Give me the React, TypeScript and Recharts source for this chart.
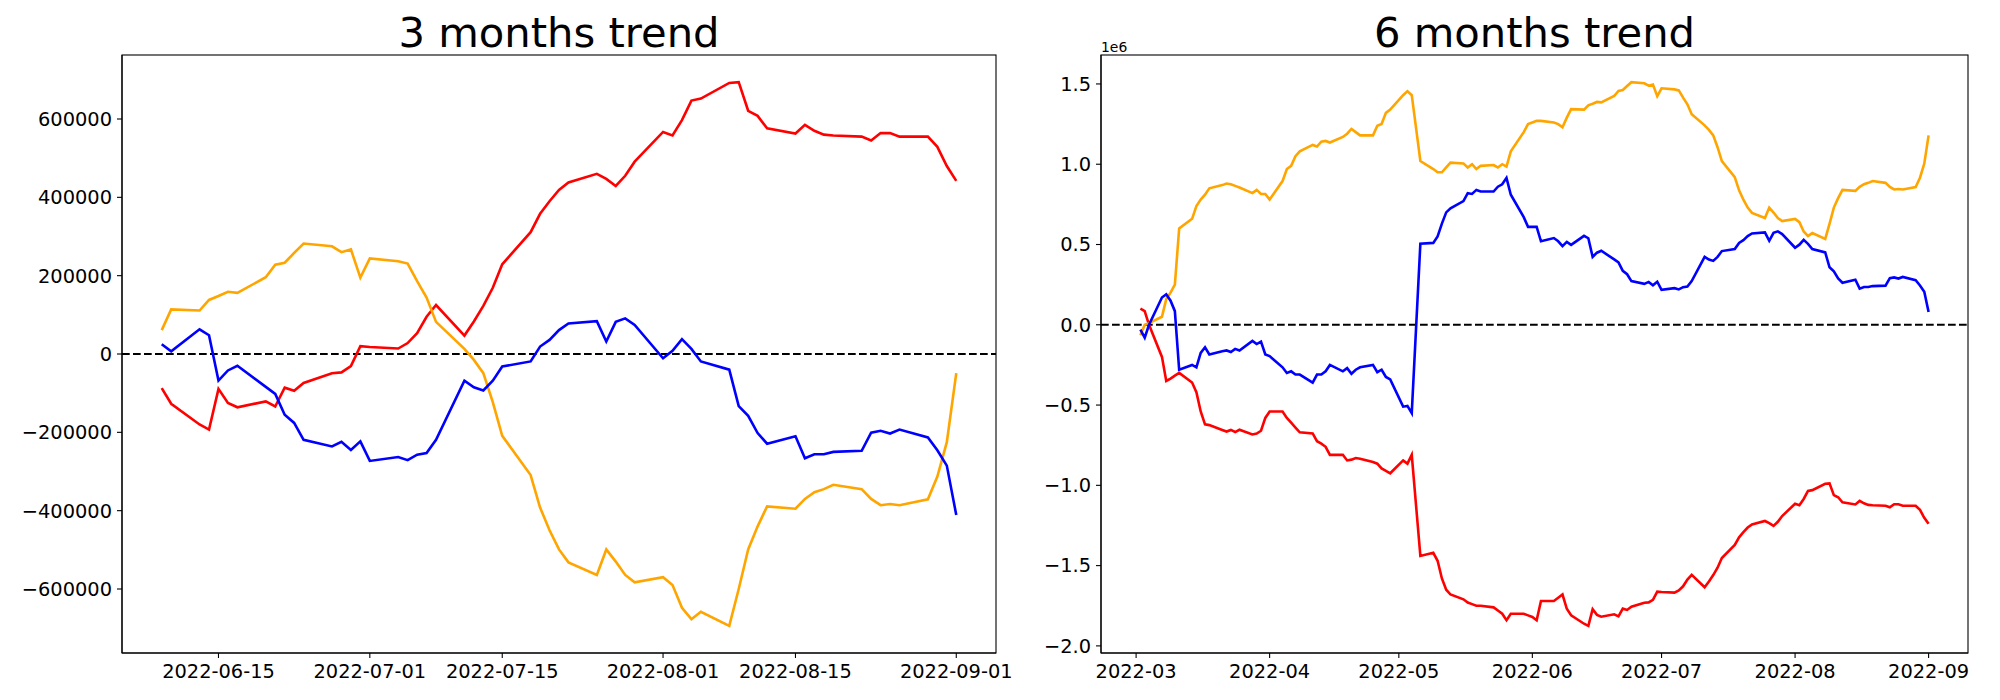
import React from "react";
import { LineChart, Line, XAxis, YAxis, ReferenceLine } from "recharts";

const FONT = "DejaVu Sans";

// 3 months window, weekdays
const SHORT_DATES = [
  "2022-06-09", "2022-06-10", "2022-06-13", "2022-06-14", "2022-06-15", "2022-06-16", "2022-06-17",
  "2022-06-20", "2022-06-21", "2022-06-22", "2022-06-23", "2022-06-24", "2022-06-27", "2022-06-28",
  "2022-06-29", "2022-06-30", "2022-07-01", "2022-07-04", "2022-07-05", "2022-07-06", "2022-07-07",
  "2022-07-08", "2022-07-11", "2022-07-12", "2022-07-13", "2022-07-14", "2022-07-15", "2022-07-18",
  "2022-07-19", "2022-07-20", "2022-07-21", "2022-07-22", "2022-07-25", "2022-07-26", "2022-07-27",
  "2022-07-28", "2022-07-29", "2022-08-01", "2022-08-02", "2022-08-03", "2022-08-04", "2022-08-05",
  "2022-08-08", "2022-08-09", "2022-08-10", "2022-08-11", "2022-08-12", "2022-08-15", "2022-08-16",
  "2022-08-17", "2022-08-18", "2022-08-19", "2022-08-22", "2022-08-23", "2022-08-24", "2022-08-25",
  "2022-08-26", "2022-08-29", "2022-08-30", "2022-08-31", "2022-09-01",
];
const SHORT_RED = [
  -87000, -127000, -180000, -193000, -89000, -125000, -136000, -121000, -134000, -86000, -94000,
  -74000, -49000, -47000, -31000, 20000, 18000, 14000, 28000, 53000, 95000, 125000, 47000, 83000,
  123000, 169000, 229000, 311000, 358000, 390000, 419000, 438000, 460000, 447000, 429000, 455000,
  491000, 567000, 558000, 597000, 647000, 652000, 692000, 694000, 621000, 608000, 576000, 563000,
  585000, 570000, 560000, 558000, 555000, 545000, 564000, 564000, 555000, 555000, 529000, 480000,
  442000,
];
const SHORT_ORANGE = [
  61000, 114000, 111000, 138000, 148000, 159000, 156000, 196000, 228000, 233000, 258000, 282000,
  275000, 260000, 267000, 195000, 244000, 237000, 231000, 186000, 144000, 82000, 13000, -15000,
  -49000, -123000, -209000, -309000, -392000, -450000, -499000, -532000, -564000, -499000, -530000,
  -564000, -583000, -570000, -590000, -648000, -677000, -658000, -694000, -600000, -499000, -440000,
  -389000, -395000, -370000, -353000, -345000, -334000, -345000, -370000, -386000, -383000, -386000,
  -371000, -313000, -225000, -49000,
];
const SHORT_BLUE = [
  25000, 7000, 63000, 48000, -68000, -42000, -30000, -84000, -102000, -155000, -176000, -219000,
  -236000, -224000, -245000, -223000, -273000, -263000, -271000, -257000, -253000, -219000, -68000,
  -85000, -93000, -68000, -32000, -19000, 19000, 36000, 61000, 78000, 84000, 32000, 82000, 91000,
  74000, -11000, 8000, 38000, 13000, -19000, -40000, -133000, -158000, -202000, -229000, -210000,
  -266000, -256000, -256000, -250000, -247000, -201000, -196000, -203000, -193000, -213000, -246000,
  -285000, -411000,
];
const SHORT_X_TICKS = ["2022-06-15", "2022-07-01", "2022-07-15", "2022-08-01", "2022-08-15", "2022-09-01"];
const SHORT_Y_TICKS = [-600000, -400000, -200000, 0, 200000, 400000, 600000];

// 6 months window, values in units of 1e6
const LONG_DATES = [
  "2022-03-02", "2022-03-03", "2022-03-04", "2022-03-07", "2022-03-08", "2022-03-09", "2022-03-10",
  "2022-03-11", "2022-03-14", "2022-03-15", "2022-03-16", "2022-03-17", "2022-03-18", "2022-03-21",
  "2022-03-22", "2022-03-23", "2022-03-24", "2022-03-25", "2022-03-28", "2022-03-29", "2022-03-30",
  "2022-03-31", "2022-04-01", "2022-04-04", "2022-04-05", "2022-04-06", "2022-04-07", "2022-04-08",
  "2022-04-11", "2022-04-12", "2022-04-13", "2022-04-14", "2022-04-15", "2022-04-18", "2022-04-19",
  "2022-04-20", "2022-04-21", "2022-04-22", "2022-04-25", "2022-04-26", "2022-04-27", "2022-04-28",
  "2022-04-29", "2022-05-02", "2022-05-03", "2022-05-04", "2022-05-06", "2022-05-09", "2022-05-10",
  "2022-05-11", "2022-05-12", "2022-05-13", "2022-05-16", "2022-05-17", "2022-05-18", "2022-05-19",
  "2022-05-20", "2022-05-23", "2022-05-24", "2022-05-25", "2022-05-26", "2022-05-27", "2022-05-30",
  "2022-05-31", "2022-06-01", "2022-06-02", "2022-06-03", "2022-06-06", "2022-06-07", "2022-06-08",
  ...SHORT_DATES,
];
const LONG_RED = [
  0.1, 0.085, 0.0, -0.2, -0.35, -0.335, -0.317, -0.3, -0.36, -0.42, -0.54, -0.62, -0.625, -0.655,
  -0.665, -0.655, -0.668, -0.654, -0.683, -0.677, -0.66, -0.58,
  -0.54, -0.54, -0.58, -0.61, -0.64, -0.67, -0.677, -0.725, -0.74, -0.76, -0.81, -0.81, -0.845,
  -0.84, -0.83, -0.835, -0.855, -0.865, -0.895, -0.91, -0.925,
  -0.845, -0.865, -0.81, -1.44, -1.42, -1.47, -1.58, -1.65, -1.68, -1.71, -1.73, -1.74, -1.75,
  -1.75, -1.76, -1.78, -1.8, -1.84, -1.8, -1.8, -1.81,
  -1.82, -1.84, -1.72, -1.72, -1.7, -1.68,
  -1.769, -1.809, -1.862, -1.875, -1.771, -1.807, -1.818, -1.803, -1.816, -1.768, -1.776, -1.756,
  -1.731, -1.729, -1.713, -1.662, -1.664, -1.668, -1.654, -1.629, -1.587, -1.557, -1.635, -1.599,
  -1.559, -1.513, -1.453, -1.371, -1.324, -1.292, -1.263, -1.244, -1.222, -1.235, -1.253, -1.227,
  -1.191, -1.115, -1.124, -1.085, -1.035, -1.03, -0.99, -0.988, -1.061, -1.074, -1.106, -1.119,
  -1.097, -1.112, -1.122, -1.124, -1.127, -1.137, -1.118, -1.118, -1.127, -1.127, -1.153, -1.202,
  -1.24,
];
const LONG_ORANGE = [
  -0.065, 0.0, 0.01, 0.05, 0.16, 0.2, 0.25, 0.6, 0.66, 0.74, 0.78, 0.81, 0.85, 0.87, 0.88, 0.875,
  0.865, 0.855, 0.82, 0.84, 0.815, 0.815,
  0.78, 0.895, 0.97, 0.99, 1.05, 1.08, 1.12, 1.11, 1.14, 1.145, 1.135, 1.17, 1.19, 1.22, 1.2, 1.18,
  1.18, 1.24, 1.25, 1.32, 1.34,
  1.43, 1.455, 1.43, 1.02, 0.97, 0.95, 0.95, 0.98, 1.01, 1.005, 0.98, 1.0, 0.97, 0.99, 0.995, 0.98,
  1.0, 0.985, 1.08, 1.2, 1.25,
  1.26, 1.27, 1.27, 1.26, 1.25, 1.23,
  1.29, 1.343, 1.34, 1.367, 1.377, 1.388, 1.385, 1.425, 1.457, 1.462, 1.487, 1.511, 1.504, 1.489,
  1.496, 1.424, 1.473, 1.466, 1.46, 1.415, 1.373, 1.311, 1.242, 1.214, 1.18, 1.106, 1.02, 0.92,
  0.837, 0.779, 0.73, 0.697, 0.665, 0.73, 0.699, 0.665, 0.646, 0.659, 0.639, 0.581, 0.552, 0.571,
  0.535, 0.629, 0.73, 0.789, 0.84, 0.834, 0.859, 0.876, 0.884, 0.895, 0.884, 0.859, 0.843, 0.846,
  0.843, 0.858, 0.916, 1.004, 1.18,
];
const LONG_BLUE = [
  -0.03, -0.08, 0.0, 0.17, 0.19, 0.15, 0.085, -0.28, -0.25, -0.265, -0.175, -0.14, -0.185, -0.165,
  -0.16, -0.17, -0.15, -0.16, -0.1, -0.12, -0.105, -0.185,
  -0.195, -0.265, -0.3, -0.29, -0.31, -0.31, -0.36, -0.31, -0.31, -0.29, -0.25, -0.29, -0.27,
  -0.305, -0.28, -0.265, -0.25, -0.295, -0.28, -0.325, -0.34,
  -0.51, -0.505, -0.55, 0.505, 0.51, 0.55, 0.63, 0.7, 0.725, 0.77, 0.82, 0.815, 0.84, 0.83, 0.83,
  0.86, 0.875, 0.915, 0.81, 0.67, 0.61,
  0.61, 0.61, 0.52, 0.54, 0.52, 0.49,
  0.516, 0.498, 0.554, 0.539, 0.423, 0.449, 0.461, 0.407, 0.389, 0.336, 0.315, 0.272, 0.255, 0.267,
  0.246, 0.268, 0.218, 0.228, 0.22, 0.234, 0.238, 0.272, 0.423, 0.406, 0.398, 0.423, 0.459, 0.472,
  0.51, 0.527, 0.552, 0.569, 0.575, 0.523, 0.573, 0.582, 0.565, 0.48, 0.499, 0.529, 0.504, 0.472,
  0.451, 0.358, 0.333, 0.289, 0.262, 0.281, 0.225, 0.235, 0.235, 0.241, 0.244, 0.29, 0.295, 0.288,
  0.298, 0.278, 0.245, 0.206, 0.08,
];
const LONG_X_TICKS = ["2022-03-01", "2022-04-01", "2022-05-01", "2022-06-01", "2022-07-01", "2022-08-01", "2022-09-01"];
const LONG_Y_TICKS = [-2.0, -1.5, -1.0, -0.5, 0.0, 0.5, 1.0, 1.5];

const minus = (s: string) => s.replace("-", "\u2212");

function padded(lo: number, hi: number): [number, number] {
  const d = (hi - lo) * 0.05;
  return [lo - d, hi + d];
}

type PanelProps = {
  left: number;
  width: number;
  plotLeft: number;
  plotRight: number;
  title: string;
  dates: string[];
  red: number[];
  orange: number[];
  blue: number[];
  xTicks: string[];
  yTicks: number[];
  xFmt: (v: number) => string;
  yFmt: (v: number) => string;
  offsetText?: string;
};

const H = 700;
const TOP = 55;
const BOTTOM = 653;
const Y_AXIS_W = 100;
const X_AXIS_H = 40;

function Panel(p: PanelProps) {
  const rows = p.dates.map((d, i) => ({
    t: Date.parse(d),
    red: p.red[i],
    orange: p.orange[i],
    blue: p.blue[i],
  }));
  const ts = rows.map((r) => r.t);
  const xDomain = padded(Math.min(...ts), Math.max(...ts));
  const all = [...p.red, ...p.orange, ...p.blue];
  const yDomain = padded(Math.min(...all), Math.max(...all));
  const tickStyle = { fill: "#000", fontSize: 19.4, fontFamily: FONT };
  const axisLine = { stroke: "#000", strokeWidth: 1.1 };

  return (
    <div style={{ position: "absolute", left: p.left, top: 0, width: p.width, height: H }}>
      <LineChart
        width={p.width}
        height={H}
        data={rows}
        margin={{
          top: TOP,
          right: p.width - p.plotRight,
          bottom: H - BOTTOM - X_AXIS_H,
          left: p.plotLeft - Y_AXIS_W,
        }}
      >
        <XAxis
          dataKey="t"
          type="number"
          domain={xDomain}
          allowDataOverflow
          ticks={p.xTicks.map((d) => Date.parse(d))}
          tickFormatter={p.xFmt}
          height={X_AXIS_H}
          tickSize={5}
          tickMargin={6}
          tick={tickStyle}
          axisLine={axisLine}
          tickLine={axisLine}
          interval={0}
        />
        <YAxis
          type="number"
          domain={yDomain}
          allowDataOverflow
          ticks={p.yTicks}
          tickFormatter={p.yFmt}
          width={Y_AXIS_W}
          tickSize={5}
          tickMargin={5}
          tick={tickStyle}
          axisLine={axisLine}
          tickLine={axisLine}
          interval={0}
        />
        <ReferenceLine y={0} stroke="#000" strokeWidth={2.1} strokeDasharray="7.7 3.3" />
        <Line type="linear" dataKey="red" stroke="#ff0000" strokeWidth={2.6} dot={false} isAnimationActive={false} />
        <Line type="linear" dataKey="orange" stroke="#ffa500" strokeWidth={2.6} dot={false} isAnimationActive={false} />
        <Line type="linear" dataKey="blue" stroke="#0000ff" strokeWidth={2.6} dot={false} isAnimationActive={false} />
      </LineChart>
      <svg
        width={p.width}
        height={H}
        style={{ position: "absolute", left: 0, top: 0, pointerEvents: "none" }}
      >
        <rect
          x={p.plotLeft}
          y={TOP}
          width={p.plotRight - p.plotLeft}
          height={BOTTOM - TOP}
          fill="none"
          stroke="#000"
          strokeWidth={1.1}
        />
        <text
          x={(p.plotLeft + p.plotRight) / 2}
          y={47}
          textAnchor="middle"
          fontFamily={FONT}
          fontSize={41.7}
          fill="#000"
        >
          {p.title}
        </text>
        {p.offsetText ? (
          <text x={p.plotLeft} y={51.5} fontFamily={FONT} fontSize={13.9} fill="#000">
            {p.offsetText}
          </text>
        ) : null}
      </svg>
    </div>
  );
}

export default function App() {
  return (
    <div style={{ position: "absolute", left: 0, top: 0, width: 2000, height: 700, background: "#fff" }}>
      <Panel
        left={0}
        width={1060}
        plotLeft={122}
        plotRight={996}
        title="3 months trend"
        dates={SHORT_DATES}
        red={SHORT_RED}
        orange={SHORT_ORANGE}
        blue={SHORT_BLUE}
        xTicks={SHORT_X_TICKS}
        yTicks={SHORT_Y_TICKS}
        xFmt={(v) => new Date(v).toISOString().slice(0, 10)}
        yFmt={(v) => minus(String(v))}
      />
      <Panel
        left={1000}
        width={1000}
        plotLeft={101}
        plotRight={968}
        title="6 months trend"
        dates={LONG_DATES}
        red={LONG_RED}
        orange={LONG_ORANGE}
        blue={LONG_BLUE}
        xTicks={LONG_X_TICKS}
        yTicks={LONG_Y_TICKS}
        xFmt={(v) => new Date(v).toISOString().slice(0, 7)}
        yFmt={(v) => minus(v.toFixed(1))}
        offsetText="1e6"
      />
    </div>
  );
}
